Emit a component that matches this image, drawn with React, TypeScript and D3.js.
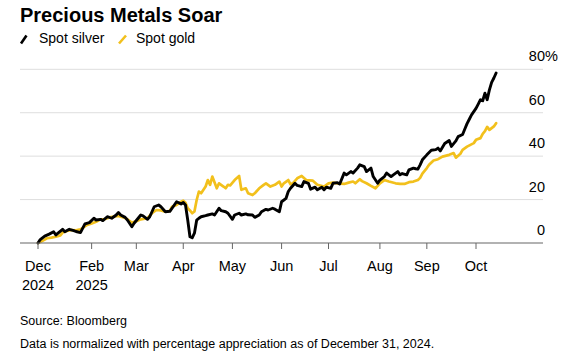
import React from "react";
import * as d3 from "d3";

// Trading-day index (weekdays since Dec 31, 2024) and % change vs Dec 31, 2024
const silverDays = [0,1,3,5,7,8,11,12,14,16,17,19,21,23,25,26,28,29,31,33,35,36,37,39,40,42,43,46,47,49,50,52,54,55,57,59,61,62,64,65,66,67,68,69,70,71,72,73,75,76,78,79,81,82,84,85,87,88,90,91,93,94,96,97,99,100,102,103,105,106,108,109,111,112,113,115,116,118,119,121,122,124,125,127,128,129,131,132,134,135,137,138,140,141,143,144,146,147,149,150,152,153,155,156,158,159,161,162,163,165,166,168,169,170,171,172,174,176,178,179,180,182,184,185,187,188,190,191,192,193,194,196,197,198,199,200,201,202,203,204,205];
const silverPct = [0,1.6,3.2,4.1,5.2,3.7,6.3,5.2,6.3,5.7,5.3,4.8,8.8,9.4,11.4,10.6,10.9,10.3,12.1,11.4,12.9,14,12.9,11.8,10.6,7.5,9.1,12.9,12.5,10.9,12.1,16.7,17.5,16.7,14.4,14.6,17.5,19,18,18.6,17.5,10.6,2.9,2.4,4.5,10.5,11.4,12.1,12.6,12.9,13.4,12.9,16,14.9,14.4,13.7,10.9,12.9,13.7,12.9,13.4,13,12.9,11.8,12.9,14.4,15.5,15.2,16,15.6,14.4,19,20.6,23.7,25.2,27.5,26.5,26,28.3,27.5,24.8,25.7,24.5,25.7,24.5,25.7,25.2,27.5,27.8,27.2,32.2,31.4,32.9,32.2,34.5,36,35.2,32.9,34.5,30.6,27.5,29,30.6,32.2,30.6,31.4,32.9,31.4,32,31.4,33.7,34.5,34.2,34,36,38.3,40.6,42.7,43,43.7,42.4,45.8,47.2,44.5,47,49,50,52.5,55,57,59,62,64,66,65.5,69,66,70.5,74,76,78.3];

const goldDays = [0,2,4,6,8,10,11,13,15,17,19,22,24,26,28,30,32,36,39,40,42,44,46,49,51,53,55,57,59,60,62,64,65,66,67,68,69,70,71,72,73,75,76,77,78,80,81,83,84,85,86,88,90,91,93,94,96,97,99,101,102,104,106,108,109,110,112,113,114,116,118,120,123,125,128,130,132,134,137,139,141,142,144,145,147,149,151,153,155,157,160,162,164,166,168,170,171,172,174,175,177,179,181,184,186,187,189,190,192,195,196,198,199,200,201,202,204,205];
const goldPct = [0,1,2.2,2.5,2.9,3.5,4.8,5.5,6,5.8,6.3,8.3,9,9.8,10.9,11,11.8,12.5,11.5,10.9,9.4,10,10.9,11.4,13.7,15.2,15,14.4,14.8,16.7,17.5,19,19.5,18.5,16,15,13.7,14.5,19.8,23.7,22.9,26,29,26.8,30.6,25.2,27.5,26,25.2,26.8,26.5,29,30.9,24.5,25.2,22.9,22.1,22.9,25.2,26.8,27.5,26,26.8,28.3,26,27.5,29,27,27.5,29.8,30.9,29,28.7,26.8,26,27.5,27.8,27.5,27.2,27.8,28.3,27.5,29.4,28.5,27.5,26.3,25.2,27.5,29,28.3,27.5,27.2,27.2,28,28.3,29,30,32,34.5,36,38,38.6,39.8,40.6,41.4,39.3,41.1,42.9,44.4,46,47.5,48.3,50.3,51.5,53.5,52.1,53.7,55.2];

const tickDays = [0, 24, 44, 65, 87, 109, 130, 153, 174, 196];
const tickMonths = ["Dec", "Feb", "Mar", "Apr", "May", "Jun", "Jul", "Aug", "Sep", "Oct"];
const tickYears = ["2024", "2025", "", "", "", "", "", "", "", ""];
const yTicks = [0, 20, 40, 60, 80];

const FONT = '"Liberation Sans", Arial, Helvetica, sans-serif';
const SILVER = "#000000";
const GOLD = "#f2c01c";

export default function App() {
  const W = 565, H = 352;
  const x = d3.scaleLinear().domain([0, 196]).range([38, 476]);
  const y = d3.scaleLinear().domain([0, 80]).range([243, 69.3]);
  const gridLeft = 20, gridRight = 543;

  const line = d3
    .line<[number, number]>()
    .x((d) => x(d[0]))
    .y((d) => y(d[1]))
    .curve(d3.curveLinear);

  const silver: [number, number][] = silverDays.map((d, i) => [d, silverPct[i]]);
  const gold: [number, number][] = goldDays.map((d, i) => [d, goldPct[i]]);

  return (
    <svg
      width={W}
      height={H}
      style={{ position: "absolute", left: 0, top: 0, background: "#fff" }}
      fontFamily={FONT}
    >
      <rect width={W} height={H} fill="#fff" />
      <text x={20} y={22} fontSize={20} fontWeight="bold" fill="#000">
        Precious Metals Soar
      </text>
      {/* legend */}
      <line x1={21} y1={43.5} x2={26.5} y2={35.5} stroke={SILVER} strokeWidth={2.6} />
      <text x={39} y={43} fontSize={14} fill="#000">Spot silver</text>
      <line x1={119} y1={43.5} x2={126} y2={35.5} stroke={GOLD} strokeWidth={2.6} />
      <text x={136} y={43} fontSize={14} fill="#000">Spot gold</text>

      {/* grid */}
      {yTicks.map((t) =>
        t === 0 ? null : (
          <line key={t} x1={gridLeft} x2={gridRight} y1={y(t)} y2={y(t)} stroke="#dedede" strokeWidth={1} />
        )
      )}
      {yTicks.map((t) => (
        <g key={"l" + t}>
          <text x={545} y={y(t) - 8} fontSize={14.5} fill="#000" textAnchor="end">
            {t}
          </text>
          {t === yTicks[yTicks.length - 1] ? (
            <text x={545} y={y(t) - 8} fontSize={14.5} fill="#000">%</text>
          ) : null}
        </g>
      ))}

      {/* lines */}
      <path d={line(gold) || ""} fill="none" stroke={GOLD} strokeWidth={2.7} strokeLinejoin="round" strokeLinecap="round" />
      <path d={line(silver) || ""} fill="none" stroke={SILVER} strokeWidth={2.9} strokeLinejoin="round" strokeLinecap="round" />

      {/* x axis */}
      <line x1={gridLeft} x2={gridRight} y1={y(0)} y2={y(0)} stroke="#666" strokeWidth={1.2} />
      {tickDays.map((d, i) => (
        <g key={d} transform={`translate(${x(d)},0)`}>
          <line y1={y(0)} y2={y(0) + 6} stroke="#666" strokeWidth={1} />
          <text y={271} fontSize={14.5} textAnchor="middle" fill="#000">{tickMonths[i]}</text>
          {tickYears[i] ? (
            <text y={290} fontSize={14.5} textAnchor="middle" fill="#000">{tickYears[i]}</text>
          ) : null}
        </g>
      ))}

      {/* footer */}
      <text x={20} y={325} fontSize={12.5} fill="#000">Source: Bloomberg</text>
      <text x={20} y={348} fontSize={12.5} fill="#000">
        Data is normalized with percentage appreciation as of December 31, 2024.
      </text>
    </svg>
  );
}
